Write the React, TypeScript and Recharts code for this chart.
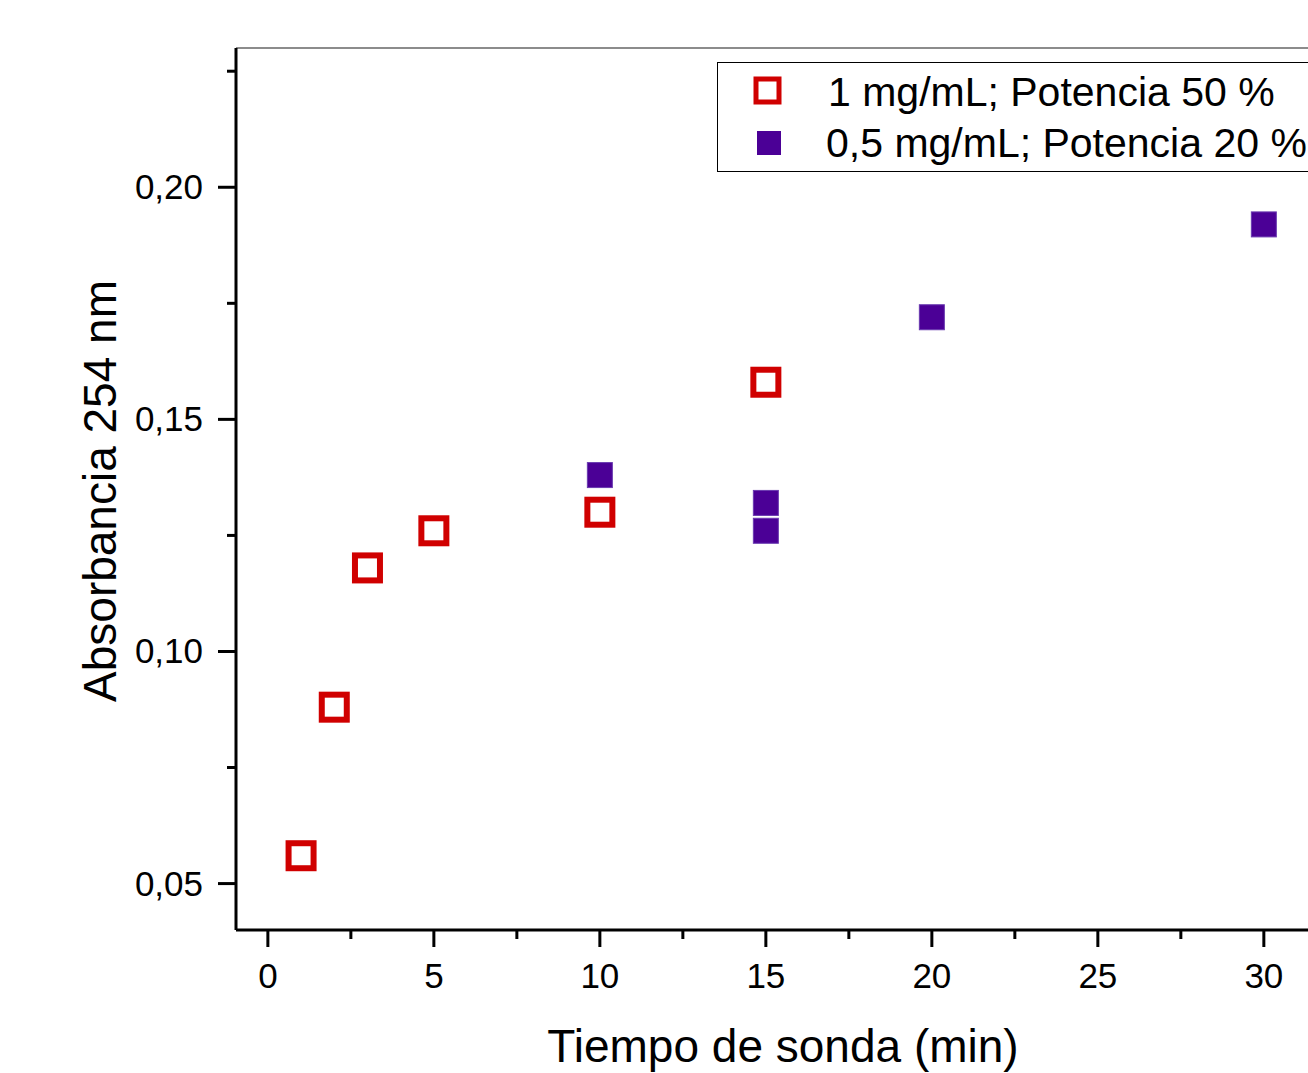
import React from 'react';
import { ScatterChart, Scatter, XAxis, YAxis, Label, ReferenceLine } from 'recharts';

// series 1: 1 mg/mL, potencia 50 %
const redTimes = [1, 2, 3, 5, 10, 15];
const redAbs = [0.056, 0.088, 0.118, 0.126, 0.13, 0.158];

// series 2: 0,5 mg/mL, potencia 20 %
const purpleTimes = [10, 15, 15, 20, 30];
const purpleAbs = [0.138, 0.132, 0.126, 0.172, 0.192];

const seriesNames = ['1 mg/mL; Potencia 50 %', '0,5 mg/mL; Potencia 20 %'];

const xTicks = [0, 2.5, 5, 7.5, 10, 12.5, 15, 17.5, 20, 22.5, 25, 27.5, 30];
const yTicks = [0.05, 0.075, 0.1, 0.125, 0.15, 0.175, 0.2, 0.225];

const RED = '#d00000';
const PURPLE = '#4b0096';
const FONT = '"Liberation Sans", Arial, sans-serif';

const redData = redTimes.map((x, i) => ({ x, y: redAbs[i] }));
const purpleData = purpleTimes.map((x, i) => ({ x, y: purpleAbs[i] }));

const isMajorX = (v: number) => v % 5 === 0;
const isMajorY = (v: number) => Math.abs(v * 20 - Math.round(v * 20)) < 1e-6;

const XTick = (props: any) => {
  const { x, y, payload } = props;
  const major = isMajorX(payload.value);
  return (
    <g>
      <line x1={x} y1={y} x2={x} y2={y + (major ? 17 : 9)} stroke="#000" strokeWidth={3} />
      {major && (
        <text x={x} y={y + 58} textAnchor="middle" fontSize={35} fontFamily={FONT} fill="#000">
          {payload.value}
        </text>
      )}
    </g>
  );
};

const YTick = (props: any) => {
  const { x, y, payload } = props;
  const major = isMajorY(payload.value);
  return (
    <g>
      <line x1={x} y1={y} x2={x - (major ? 18 : 9)} y2={y} stroke="#000" strokeWidth={3} />
      {major && (
        <text x={x - 33} y={y + 12} textAnchor="end" fontSize={35} fontFamily={FONT} fill="#000">
          {payload.value.toFixed(2).replace('.', ',')}
        </text>
      )}
    </g>
  );
};

const OpenSquare = (props: any) => {
  const { cx, cy } = props;
  return <rect x={cx - 12.5} y={cy - 12.5} width={25} height={25} fill="#fff" stroke={RED} strokeWidth={6} />;
};

const FilledSquare = (props: any) => {
  const { cx, cy } = props;
  return <rect x={cx - 12.5} y={cy - 12.5} width={25} height={25} fill={PURPLE} stroke="#6a3ab0" strokeWidth={1} />;
};

const LegendBox = () => (
  <div
    style={{
      position: 'absolute',
      left: 717,
      top: 62,
      width: 640,
      height: 108,
      border: '1px solid #000',
      background: '#fff',
    }}
  >
    <svg width={640} height={108} style={{ position: 'absolute', left: 0, top: 0 }}>
      <rect x={38} y={16} width={23} height={23} fill="#fff" stroke={RED} strokeWidth={5} />
      <rect x={39} y={68} width={24} height={24} fill={PURPLE} />
      <text x={110} y={43} fontSize={41} fontFamily={FONT} fill="#000">{seriesNames[0]}</text>
      <text x={108} y={94} fontSize={41} fontFamily={FONT} fill="#000">{seriesNames[1]}</text>
    </svg>
  </div>
);

export default function App() {
  return (
    <div style={{ position: 'absolute', left: 0, top: 0, width: 1308, height: 1073, overflow: 'hidden', background: '#fff' }}>
      <ScatterChart width={1308} height={1073} margin={{ top: 48, right: 0, left: 0, bottom: 0 }}>
        <XAxis
          type="number"
          dataKey="x"
          domain={[-0.96, 31.33]}
          allowDataOverflow
          ticks={xTicks}
          interval={0}
          height={143}
          tickSize={0}
          tickMargin={0}
          tickLine={false}
          tick={<XTick />}
          axisLine={{ stroke: '#000', strokeWidth: 3 }}
        >
          <Label
            content={() => (
              <text x={783} y={1062} textAnchor="middle" fontSize={46} fontFamily={FONT} fill="#000">
                Tiempo de sonda (min)
              </text>
            )}
          />
        </XAxis>
        <YAxis
          type="number"
          dataKey="y"
          domain={[0.04, 0.23]}
          allowDataOverflow
          ticks={yTicks}
          interval={0}
          width={236}
          tickSize={0}
          tickMargin={0}
          tickLine={false}
          tick={<YTick />}
          axisLine={{ stroke: '#000', strokeWidth: 3 }}
        >
          <Label
            content={(p: any) => {
              const vb = p.viewBox || { x: 0, y: 48, width: 236, height: 882 };
              const cy = vb.y + vb.height / 2 + 2;
              return (
                <text
                  x={116}
                  y={cy}
                  transform={`rotate(-90, 116, ${cy})`}
                  textAnchor="middle"
                  fontSize={46}
                  fontFamily={FONT}
                  fill="#000"
                >
                  Absorbancia 254 nm
                </text>
              );
            }}
          />
        </YAxis>
        <ReferenceLine y={0.23} stroke="#8c8c8c" strokeWidth={2} ifOverflow="extendDomain" />
        <Scatter name={seriesNames[0]} data={redData} shape={<OpenSquare />} isAnimationActive={false} />
        <Scatter name={seriesNames[1]} data={purpleData} shape={<FilledSquare />} isAnimationActive={false} />
      </ScatterChart>
      <LegendBox />
    </div>
  );
}
